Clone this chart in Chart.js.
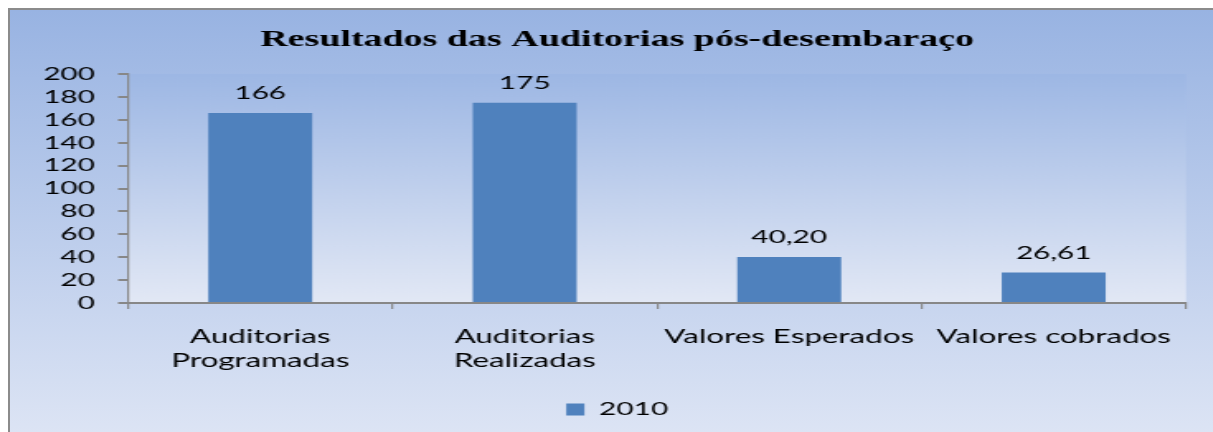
<!DOCTYPE html>
<html>
<head>
<meta charset="utf-8">
<script src="https://cdn.jsdelivr.net/npm/chart.js@4.4.1/dist/chart.umd.min.js"></script>
<style>
    html, body { margin: 0; padding: 0; background: #fff; overflow: hidden; width: 1213px; height: 432px; }
    #frame {
        position: absolute; left: 8px; top: 8px; width: 1300px; height: 440px;
        border-left: 2px solid #8b8b8b; border-top: 2px solid #8b8b8b;
        background: linear-gradient(#98b3e2, #dfe6f5);
        overflow: hidden;
    }
    /* the original picture is stretched sideways, so the chart is too */
    #wrap { width: 736px; height: 422px; transform: scaleX(1.65); transform-origin: 0 0; }
</style>
</head>
<body>
<div id="frame">
    <div id="wrap"><canvas id="chart" width="736" height="422"></canvas></div>
</div>
<script>
const categories = [["Auditorias", "Programadas"], ["Auditorias", "Realizadas"], "Valores Esperados", "Valores cobrados"];
const values2010 = [166, 175, 40.20, 26.61];
const seriesName = "2010";
const yMin = 0;
const yMax = 200;
const yStep = 20;

const FONT = "Lato";

function formatValue(v) {
    return Number.isInteger(v) ? String(v) : v.toFixed(2).replace(".", ",");
}

// gradient behind the plot area
const plotBackground = {
    id: "plotBackground",
    beforeDraw(chart) {
        const { ctx, chartArea: a } = chart;
        const g = ctx.createLinearGradient(0, a.top, 0, a.bottom);
        g.addColorStop(0, "#9db7e4");
        g.addColorStop(1, "#e2e8f5");
        ctx.save();
        ctx.fillStyle = g;
        ctx.fillRect(a.left, a.top, a.right - a.left, a.bottom - a.top);
        ctx.restore();
    }
};

// value labels above the bars
const valueLabels = {
    id: "valueLabels",
    afterDatasetsDraw(chart) {
        const ctx = chart.ctx;
        const meta = chart.getDatasetMeta(0);
        ctx.save();
        ctx.font = "18px " + FONT;
        ctx.fillStyle = "#000";
        ctx.textAlign = "center";
        ctx.textBaseline = "alphabetic";
        meta.data.forEach((bar, i) => {
            ctx.fillText(formatValue(values2010[i]), bar.x, bar.y - 14);
        });
        ctx.restore();
    }
};

new Chart(document.getElementById("chart").getContext("2d"), {
    type: "bar",
    data: {
        labels: categories,
        datasets: [{
            label: seriesName,
            data: values2010,
            backgroundColor: "#4f81bd",
            borderWidth: 0,
            barPercentage: 0.393,
            categoryPercentage: 1
        }]
    },
    options: {
        responsive: false,
        devicePixelRatio: 1,
        animation: false,
        layout: { padding: { left: 0, right: 0, top: 0, bottom: 3.5 } },
        plugins: {
            title: {
                display: true,
                text: "Resultados das Auditorias pós-desembaraço",
                color: "#000",
                font: { family: "Liberation Serif", size: 23, weight: "bold" },
                padding: { top: 16.2, bottom: 20.2 }
            },
            legend: {
                position: "bottom",
                labels: {
                    color: "#000",
                    font: { family: FONT, size: 18 },
                    boxWidth: 11,
                    boxHeight: 12,
                    padding: 10
                }
            },
            tooltip: { enabled: false }
        },
        scales: {
            x: {
                grid: { drawOnChartArea: false, drawTicks: true, tickLength: 6, color: "#878787", lineWidth: 1.2 },
                border: { color: "#878787", width: 2 },
                ticks: {
                    color: "#000",
                    font: { family: FONT, size: 19, lineHeight: 1.25 },
                    padding: 16,
                    maxRotation: 0,
                    autoSkip: false
                },
                afterFit(scale) { scale.height = 87.5; }
            },
            y: {
                min: yMin,
                max: yMax,
                grid: { drawOnChartArea: false, drawTicks: true, tickLength: 6, color: "#878787", lineWidth: 2 },
                border: { color: "#878787", width: 1.2 },
                ticks: {
                    stepSize: yStep,
                    autoSkip: false,
                    color: "#000",
                    font: { family: FONT, size: 18, lineHeight: 1 },
                    padding: 14
                },
                afterFit(scale) { scale.width = 71.5; }
            },
            // empty right axis, only keeps the plot off the right edge
            yRight: {
                position: "right",
                display: true,
                grid: { display: false },
                border: { display: false },
                ticks: { display: false },
                afterFit(scale) { scale.width = 23.3; }
            }
        }
    },
    plugins: [plotBackground, valueLabels]
});
</script>
</body>
</html>
